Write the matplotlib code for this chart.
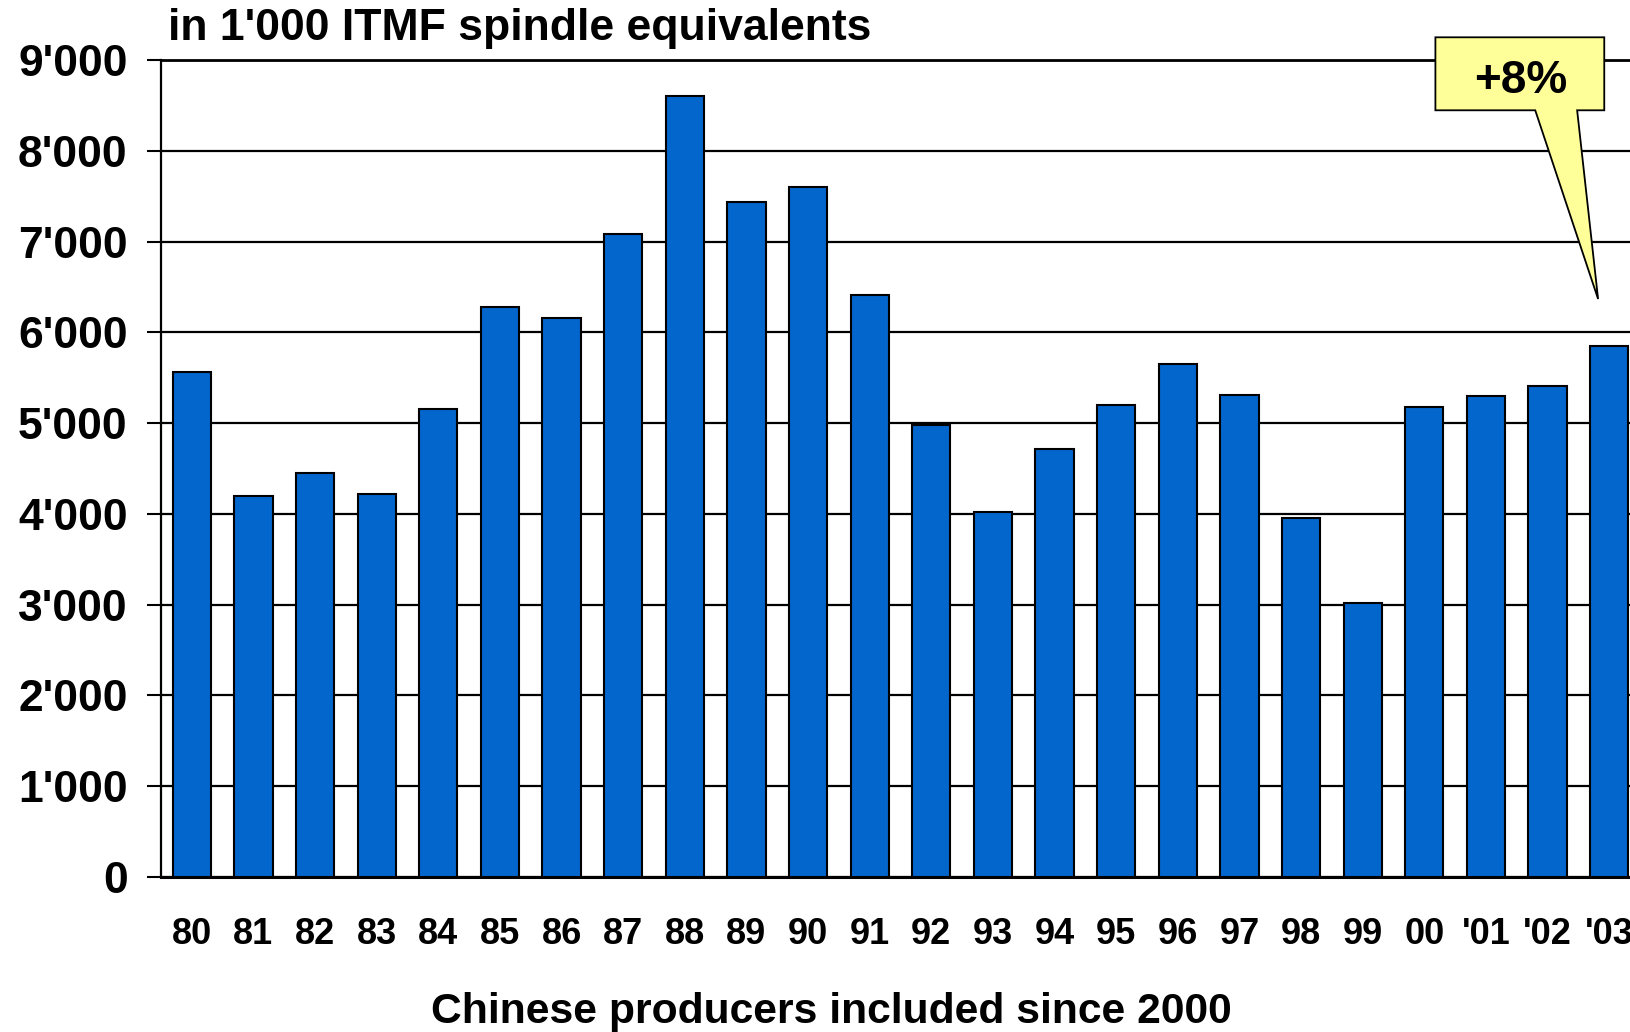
import matplotlib
matplotlib.use("Agg")
from matplotlib import pyplot as plt
from matplotlib.patches import Polygon

# spinning capacity, thousands of ITMF spindle equivalents
years = ["80", "81", "82", "83", "84", "85", "86", "87", "88", "89", "90", "91",
         "92", "93", "94", "95", "96", "97", "98", "99", "00", "'01", "'02", "'03"]
capacity = [5560, 4200, 4450, 4220, 5160, 6280, 6160, 7080, 8600, 7440, 7600, 6410,
            4980, 4020, 4710, 5200, 5650, 5315, 3955, 3020, 5180, 5295, 5405, 5850]
yticks = list(range(0, 9001, 1000))
ytick_labels = ["0"] + [f"{v // 1000}'000" for v in yticks[1:]]

callout_text = "+8%"
# callout box and pointer, in data units
box_x = (20.18, 22.92)
box_y = (8446, 9250)
ptr_base = (21.80, 22.48)
ptr_tip = (22.82, 6367)

W, H = 1630, 1032
fig = plt.figure(figsize=(W / 100, H / 100), dpi=100)
ax = fig.add_axes([161 / W, 155 / H, 1479 / W, 817 / H])

ax.bar(range(len(years)), capacity, width=0.62, color="#0366CC",
       edgecolor="black", linewidth=1.5, zorder=3)

ax.set_xlim(-0.5, len(years) - 0.5)
ax.set_ylim(0, 9000)
ax.set_yticks(yticks)
ax.set_yticklabels(ytick_labels, fontfamily="Liberation Sans", fontweight="bold", fontsize=32)
ax.set_xticks(range(len(years)))
ax.set_xticklabels(years, fontfamily=["Liberation Sans Narrow", "Liberation Sans"],
                   fontweight="bold", fontsize=26)
ax.tick_params(axis="y", length=10, width=1.5, pad=14)
ax.tick_params(axis="x", length=0, pad=29)

ax.grid(axis="y", color="black", linewidth=1.6, zorder=0)
ax.set_axisbelow(True)
ax.spines["right"].set_visible(False)
ax.spines["top"].set_linewidth(2)
ax.spines["left"].set_linewidth(1.6)
ax.spines["bottom"].set_linewidth(2.2)

# yellow speech-bubble callout above the last bar
x0, x1 = box_x
y0, y1 = box_y
shape = [(x0, y1), (x1, y1), (x1, y0), (ptr_base[1], y0), ptr_tip,
         (ptr_base[0], y0), (x0, y0)]
ax.add_patch(Polygon(shape, closed=True, facecolor="#FFFF99", edgecolor="black",
                     linewidth=1.3, clip_on=False, zorder=5))
ax.text((x0 + x1) / 2 + 0.02, (y0 + y1) / 2 - 80, callout_text, ha="center", va="center",
        fontfamily="Liberation Sans", fontweight="bold", fontsize=33, zorder=6)

fig.text(168 / W, 1 - 40 / H, "in 1'000 ITMF spindle equivalents", ha="left", va="baseline",
         fontfamily="Liberation Sans", fontweight="bold", fontsize=32)
fig.text(831 / W, 9 / H, "Chinese producers included since 2000", ha="center", va="baseline",
         fontfamily="Liberation Sans", fontweight="bold", fontsize=30.7)

fig.savefig("out.png", dpi=100, facecolor="white")
